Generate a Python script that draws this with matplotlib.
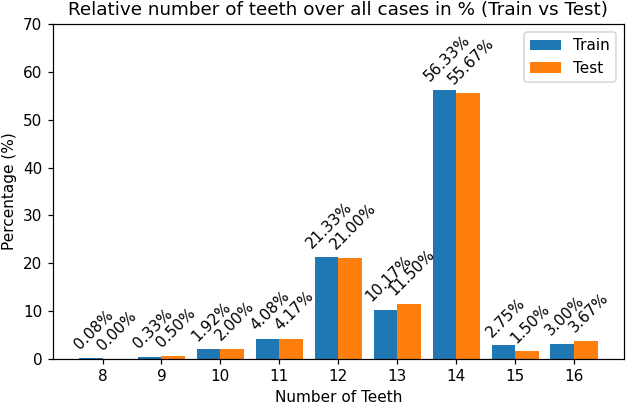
import numpy as np
import matplotlib
matplotlib.use('Agg')
import matplotlib.pyplot as plt

# Numero de dientes y porcentaje de casos
dientes = ['8', '9', '10', '11', '12', '13', '14', '15', '16']
train = [0.08, 0.33, 1.92, 4.08, 21.33, 10.17, 56.33, 2.75, 3.00]
test = [0.00, 0.50, 2.00, 4.17, 21.00, 11.50, 55.67, 1.50, 3.67]

x = np.arange(len(dientes))
ancho = 0.4
dpi = 110

fig, ax = plt.subplots(figsize=(629/dpi, 404/dpi), dpi=dpi)
fig.subplots_adjust(left=0.0843, right=0.9913, top=0.9394, bottom=0.1126)

b1 = ax.bar(x - ancho/2, train, ancho, label='Train', color='#1f77b4')
b2 = ax.bar(x + ancho/2, test, ancho, label='Test', color='#ff7f0e')

# Etiquetas de porcentaje sobre cada barra
for barras in (b1, b2):
    for b in barras:
        h = b.get_height()
        ax.text(b.get_x() + b.get_width()/2 + 0.05, h + 1.2, f'{h:.2f}%',
                ha='center', va='bottom', rotation=45)

ax.set_xticks(x)
ax.set_xticklabels(dientes)
ax.set_ylim(0, 70)
ax.set_xlabel('Number of Teeth')
ax.set_ylabel('Percentage (%)')
ax.set_title('Relative number of teeth over all cases in % (Train vs Test)')
ax.legend(loc='upper right')

fig.savefig('out.png', dpi=dpi)
